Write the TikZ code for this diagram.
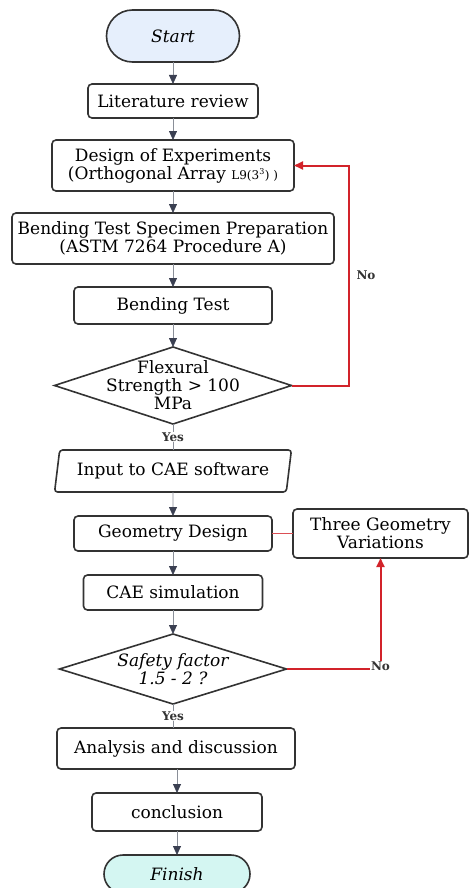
\documentclass[tikz,border=0pt]{standalone}
\usepackage{fontspec}
\setmainfont{DejaVu Serif}
\usepackage{tikz}
\usetikzlibrary{positioning}
\usetikzlibrary{shapes.geometric, arrows.meta}

\definecolor{boxline}{HTML}{333333}
\definecolor{startfill}{HTML}{E6EFFC}
\definecolor{finishfill}{HTML}{D4F6F2}
\definecolor{flowred}{HTML}{D2232A}
\definecolor{linkgray}{HTML}{8A8F98}
\definecolor{tipdark}{HTML}{3B4052}

\begin{document}
\begin{tikzpicture}[x=1pt, y=1pt,
    font=\fontsize{17}{18}\selectfont,
    terminal/.style={rectangle, rounded corners=19pt, draw=boxline,
      line width=1.6pt, outer sep=0pt, minimum width=133pt, minimum height=52pt,
      font=\fontsize{17}{18}\selectfont\itshape},
    process/.style={rectangle, rounded corners=4pt, draw=boxline,
      line width=1.6pt, outer sep=0pt, align=center, inner sep=2pt},
    decision/.style={diamond, draw=boxline, line width=1.6pt, outer sep=0pt,
      inner sep=0pt},
    io/.style={trapezium, trapezium left angle=79, trapezium right angle=101,
      trapezium stretches=true, draw=boxline, line width=1.6pt, outer sep=0pt,
      rounded corners=3pt},
    flow/.style={draw=linkgray, line width=0.8pt,
      -{Triangle[width=8pt, length=9pt, color=tipdark]}},
    plainflow/.style={draw=linkgray, line width=0.8pt},
    back/.style={draw=flowred, line width=2pt,
      -{Triangle[width=8pt, length=9pt]}},
    tag/.style={font=\fontsize{12}{12}\selectfont\bfseries, text=boxline,
      fill=white, inner sep=1pt}]
    \useasboundingbox (0,0) rectangle (469,-888);

    % main column
    \node[terminal, fill=startfill, rounded corners=26pt] (start) at (173,-36) {Start};
    \node[process, minimum width=170pt, minimum height=34pt] (litrev) [below=22pt of start] {Literature review};
    \node[process, minimum width=242pt, minimum height=51pt] (doe) [below=22pt of litrev]
      {Design of Experiments\\(Orthogonal Array {\fontsize{12}{12}\selectfont L9(3\textsuperscript{3}) )}};
    \node[process, minimum width=322pt, minimum height=51pt] (prep) [below=22pt of doe]
      {Bending Test Specimen Preparation\\(ASTM 7264 Procedure A)};
    \node[process, minimum width=198pt, minimum height=37pt] (bend) [below=23pt of prep] {Bending Test};
    \node[decision, minimum width=237pt, minimum height=77pt,
      label={[align=center]center:Flexural\\Strength > 100\\MPa}] (flex) [below=23pt of bend] {};
    \node[io, minimum width=237pt, minimum height=42pt] (cae_in) [below=26pt of flex] {Input to CAE software};
    \node[process, minimum width=198pt, minimum height=35pt] (geom) [below=24pt of cae_in] {Geometry Design};
    \node[process, minimum width=175pt, minimum height=49pt] (vars) [right=21pt of geom] {Three Geometry\\Variations};
    \node[process, minimum width=179pt, minimum height=35pt] (cae_sim) [below=24pt of geom] {CAE simulation};
    \node[decision, minimum width=227pt, minimum height=70pt,
      label={[align=center, font=\fontsize{17}{18}\selectfont\itshape]center:Safety factor\\1.5 - 2 ?}] (safety) [below=24pt of cae_sim] {};
    \node[process, minimum width=238pt, minimum height=41pt] (analysis) [below=24pt of safety, xshift=3pt] {Analysis and discussion};
    \node[process, minimum width=170pt, minimum height=38pt] (concl) [below=24pt of analysis, xshift=1pt] {conclusion};
    \node[terminal, fill=finishfill, minimum width=146pt, minimum height=38pt] (finish) [below=24pt of concl] {Finish};

    % connectors
    \draw[flow] (start) -- (litrev);
    \draw[flow] (litrev) -- (doe);
    \draw[flow] (doe) -- (prep);
    \draw[flow] (prep) -- (bend);
    \draw[flow] (bend) -- (flex);
    \draw[plainflow] (flex.south) -- node[tag] {Yes} (cae_in.north);
    \draw[flow] (cae_in) -- (geom);
    \draw[flow] (geom) -- (cae_sim);
    \draw[flow] (cae_sim) -- (safety);
    \draw[plainflow] (safety.south) -- node[tag] {Yes} (safety.south |- analysis.north);
    \draw[flow] (analysis.south -| concl.north) -- (concl.north);
    \draw[flow] (concl) -- (finish);
    \draw[draw=flowred!80, line width=0.8pt] (geom) -- (vars);

    % loops back
    \draw[back] (flex.east) -- ++(57,0) |- node[tag, pos=0.25, right=6pt, fill=none] {No} (doe.east);
    \draw[back] (safety.east) -| node[tag, pos=0.5, yshift=3pt] {No} (vars.south);
  \end{tikzpicture}
\end{document}
